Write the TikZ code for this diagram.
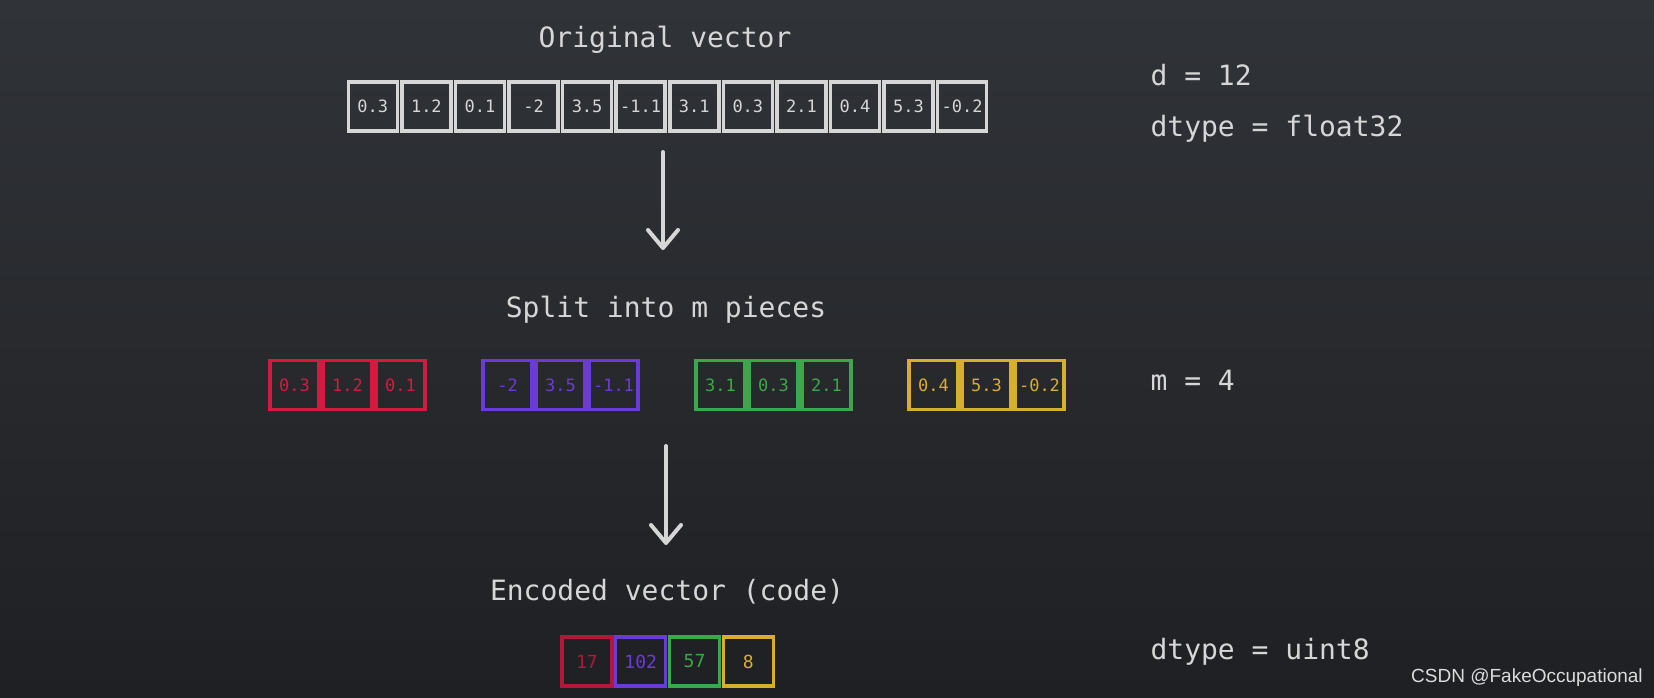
\documentclass[tikz,border=0pt]{standalone}
\usepackage{fontspec}
\setmonofont{DejaVu Sans Mono}
\newfontfamily\wmfont{Liberation Sans}
\usetikzlibrary{arrows.meta}
\definecolor{bgtop}{HTML}{303338}
\definecolor{bgbot}{HTML}{1F2023}
\definecolor{lgray}{HTML}{D6D6D6}
\definecolor{cred}{HTML}{D41A40}
\definecolor{cpur}{HTML}{6B3BD6}
\definecolor{cgrn}{HTML}{3BA84C}
\definecolor{cyel}{HTML}{D8AE2E}
\definecolor{cred3}{HTML}{B3173A}
\tikzset{
  cellbox/.style={draw=#1, line width=3.5pt, minimum width=49pt, minimum height=49pt,
    inner sep=0pt, text=#1, font=\ttfamily\fontsize{17}{17}\selectfont},
  codebox/.style={draw=#1, line width=3.5pt, minimum width=50pt, minimum height=49pt,
    inner sep=0pt, text=#1, font=\ttfamily\fontsize{18}{18}\selectfont},
  title/.style={text=lgray, anchor=base, font=\ttfamily\fontsize{28}{28}\selectfont},
  info/.style={text=lgray, anchor=base west, font=\ttfamily\fontsize{28}{28}\selectfont},
  downarrow/.style={draw=lgray, line width=4pt, line cap=round,
    -{Straight Barb[length=18pt, width=30pt, line width=4pt, round]}},
}
\begin{document}
\begin{tikzpicture}[x=1pt, y=-1pt]
\shade[top color=bgtop, bottom color=bgbot] (0,0) rectangle (1654,697);
\useasboundingbox (0,0) rectangle (1654,697);

% Original vector
\node[title] (t1) at (665,47.5) {Original vector};
\foreach \v [count=\i from 0] in {0.3,1.2,0.1,-2,3.5,-1.1,3.1,0.3,2.1,0.4,5.3,-0.2}{
  \node[cellbox=lgray] (o\i) at ({346+53.58*(\i+0.5)},106.5) {\v};
}

% arrow 1
\coordinate (a1s) at (663,152);
\coordinate (a1e) at (663,250);
\draw[downarrow] (a1s) -- (a1e);

% Split
\node[title] (t2) at (666,317.5) {Split into m pieces};
\foreach \v [count=\i from 0] in {0.3,1.2,0.1}{
  \node[cellbox=cred] (r\i) at ({268+53*(\i+0.5)},385) {\v};}
\foreach \v [count=\i from 0] in {-2,3.5,-1.1}{
  \node[cellbox=cpur] (p\i) at ({481+53*(\i+0.5)},385) {\v};}
\foreach \v [count=\i from 0] in {3.1,0.3,2.1}{
  \node[cellbox=cgrn] (g\i) at ({694+53*(\i+0.5)},385) {\v};}
\foreach \v [count=\i from 0] in {0.4,5.3,-0.2}{
  \node[cellbox=cyel] (y\i) at ({907+53*(\i+0.5)},385) {\v};}

% arrow 2
\coordinate (a2s) at (666,446);
\coordinate (a2e) at (666,545);
\draw[downarrow] (a2s) -- (a2e);

% Encoded
\node[title] (t3) at (667,600) {Encoded vector (code)};
\node[codebox=cred3] (c0) at ({560+53.8*0.5},661.5) {17};
\node[codebox=cpur] (c1) at ({560+53.8*1.5},661.5) {102};
\node[codebox=cgrn] (c2) at ({560+53.8*2.5},661.5) {57};
\node[codebox=cyel] (c3) at ({560+53.8*3.5},661.5) {8};

% right info
\node[info] (i1) at (1147,85.5) {d = 12};
\node[info] (i2) at (1147,136) {dtype = float32};
\node[info] (i3) at (1147,390) {m = 4};
\node[info] (i4) at (1147,659) {dtype = uint8};

% watermark
\node[anchor=base west, text=lgray!85, font=\wmfont\fontsize{19}{19}\selectfont, inner sep=0pt] (wm) at (1411,682.5) {CSDN @FakeOccupational};
\end{tikzpicture}
\end{document}
